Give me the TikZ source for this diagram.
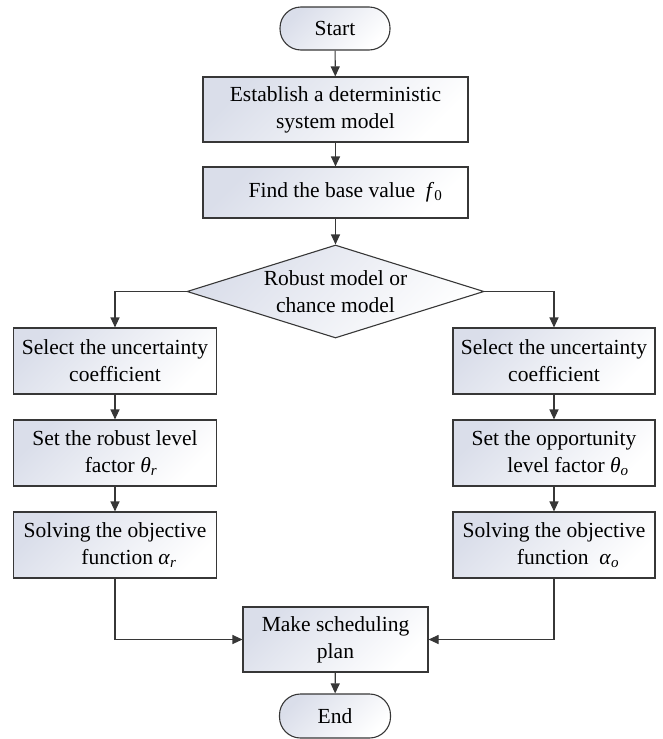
\documentclass[tikz,border=0pt]{standalone}
\usepackage{fontspec}
\setmainfont{Liberation Serif}
\usetikzlibrary{shapes.geometric,arrows.meta,calc}
\definecolor{edgegray}{RGB}{55,55,55}
\definecolor{boxfill}{RGB}{218,222,234}
\newcommand{\symsub}[2]{\textit{#1}\textsubscript{#2}}
\tikzset{
  base/.style={draw=edgegray, line width=1.1pt, inner sep=0pt, align=center,
    top color=boxfill, bottom color=white, shading angle=45,
    font=\fontsize{21.5}{27}\selectfont},
  procbox/.style={base, rectangle},
  termbox/.style={base, rectangle, rounded corners=21pt},
  decbox/.style={base, diamond},
  conn/.style={draw=edgegray, line width=1.1pt, -{Triangle[length=10pt,width=9pt]}},
  lbl/.style={align=center, font=\fontsize{21.5}{27}\selectfont, inner sep=0pt}
}
\begin{document}
\begin{tikzpicture}[x=1pt,y=-1pt]
\useasboundingbox (0,0) rectangle (662,739);
\node[termbox, minimum width=110pt, minimum height=43pt] (start) at (335,28.5) {Start};
\node[procbox, minimum width=265pt, minimum height=65pt] (est) at (335.5,109.5) {Establish a deterministic\\system model};
\node[procbox, minimum width=265pt, minimum height=51pt] (find) at (335.5,192.5) {\hspace{20pt}Find the base value\ \ \symsub{f}{0}};
\node[decbox, minimum width=297pt, minimum height=93pt] (dec) at (335.5,291.5) {};
\node[lbl] (dectext) at (335.5,291.5) {Robust model or\\chance model};
\node[procbox, minimum width=203pt, minimum height=66pt] (ls1) at (115,361) {Select the uncertainty\\coefficient};
\node[procbox, minimum width=203pt, minimum height=66pt] (ls2) at (115,453) {Set the robust level\\\hspace{12pt}factor \symsub{θ}{\textit{r}}};
\node[procbox, minimum width=203pt, minimum height=66pt] (ls3) at (115,545) {Solving the objective\\\hspace{28pt}function \symsub{α}{\textit{r}}};
\node[procbox, minimum width=202pt, minimum height=66pt] (rs1) at (554,361) {Select the uncertainty\\coefficient};
\node[procbox, minimum width=202pt, minimum height=66pt] (rs2) at (554,453) {Set the opportunity\\\hspace{28pt}level factor \symsub{θ}{\textit{o}}};
\node[procbox, minimum width=202pt, minimum height=66pt] (rs3) at (554,545) {Solving the objective\\\hspace{28pt}function\ \ \symsub{α}{\textit{o}}};
\node[procbox, minimum width=185pt, minimum height=65pt] (make) at (335.5,639.5) {Make scheduling\\plan};
\node[termbox, minimum width=111pt, minimum height=44pt] (end) at (335,716) {End};
\draw[conn] (start) -- (est);
\draw[conn] (est) -- (find);
\draw[conn] (find) -- (dec);
\draw[conn] (dec.west) -| (ls1.north);
\draw[conn] (dec.east) -| (rs1.north);
\draw[conn] (ls1) -- (ls2);
\draw[conn] (ls2) -- (ls3);
\draw[conn] (rs1) -- (rs2);
\draw[conn] (rs2) -- (rs3);
\draw[conn] (ls3.south) |- (make.west);
\draw[conn] (rs3.south) |- (make.east);
\draw[conn] (make) -- (end);
\end{tikzpicture}
\end{document}
